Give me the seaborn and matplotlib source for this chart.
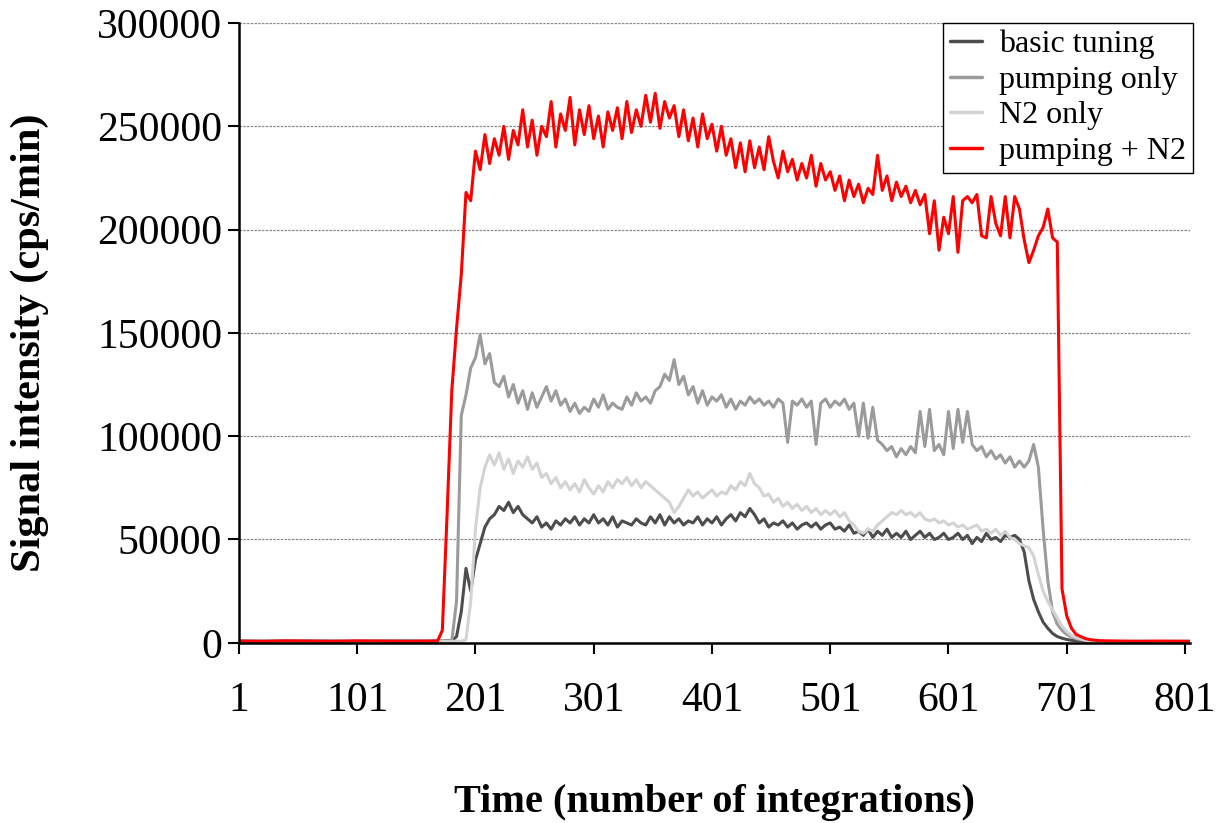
import numpy as np
import pandas as pd
import seaborn as sns
import matplotlib.pyplot as plt

# integration numbers: coarse baseline, fine active region, tail
time_pts = ([1, 21, 41, 61, 81, 101, 121, 141, 161, 169]
            + list(range(173, 734, 4))
            + [745, 760, 780, 805])

base_dark = [900, 700, 1000, 800, 900, 700, 800, 1000, 800, 900]
base_mid = [700, 900, 800, 1000, 700, 900, 800, 700, 900, 800]
base_light = [600, 800, 700, 600, 800, 700, 600, 800, 700, 600]
base_red = [800, 700, 900, 800, 700, 900, 800, 700, 800, 900]

basic_tuning = base_dark + [
    800, 900, 1000, 3000, 15000, 36000, 25000, 40000, 48000, 56000,
    60000, 62000, 66000, 64000, 68000, 63000, 66000, 62000, 60000, 58000,
    61000, 56000, 58000, 55000, 59000, 57000, 60000, 58000, 61000, 57000,
    60000, 58000, 62000, 58000, 60000, 57000, 61000, 56000, 59000, 58000,
    57000, 60000, 58000, 57000, 61000, 58000, 62000, 57000, 61000, 58000,
    60000, 57000, 59000, 58000, 61000, 57000, 60000, 58000, 61000, 57000,
    60000, 62000, 59000, 63000, 61000, 65000, 62000, 58000, 60000, 56000,
    58000, 57000, 59000, 56000, 58000, 55000, 57000, 58000, 56000, 58000,
    55000, 57000, 58000, 55000, 56000, 54000, 57000, 53000, 54000, 52000,
    55000, 51000, 54000, 52000, 55000, 51000, 53000, 51000, 54000, 50000,
    52000, 54000, 51000, 53000, 50000, 51000, 53000, 50000, 51000, 53000,
    50000, 52000, 48000, 51000, 49000, 53000, 50000, 51000, 49000, 52000,
    51000, 52000, 50000, 44000, 30000, 21000, 15000, 10000, 7000, 4500,
    3000, 2200, 1600, 1200, 1000, 900, 800, 800, 700, 700,
    700] + [600, 700, 600, 700]

pumping_only = base_mid + [
    700, 800, 1000, 20000, 110000, 120000, 133000, 138000, 149000, 135000,
    140000, 126000, 124000, 129000, 119000, 125000, 116000, 122000, 113000, 121000,
    114000, 119000, 124000, 117000, 122000, 115000, 118000, 112000, 116000, 111000,
    114000, 112000, 118000, 114000, 120000, 113000, 116000, 114000, 113000, 119000,
    115000, 121000, 117000, 119000, 116000, 122000, 124000, 130000, 127000, 137000,
    125000, 129000, 120000, 124000, 116000, 122000, 115000, 119000, 117000, 120000,
    114000, 118000, 113000, 117000, 115000, 119000, 116000, 118000, 115000, 117000,
    114000, 118000, 116000, 97000, 117000, 115000, 118000, 114000, 117000, 96000,
    116000, 118000, 114000, 117000, 115000, 118000, 113000, 116000, 100000, 116000,
    99000, 114000, 98000, 96000, 93000, 95000, 90000, 94000, 91000, 95000,
    92000, 112000, 95000, 113000, 93000, 96000, 91000, 112000, 94000, 113000,
    97000, 112000, 96000, 93000, 95000, 90000, 93000, 89000, 91000, 87000,
    90000, 85000, 88000, 85000, 88000, 96000, 85000, 55000, 30000, 15000,
    9000, 6000, 4000, 2800, 2000, 1500, 1200, 1000, 800, 700,
    700] + [700, 600, 700, 600]

n2_only = base_light + [
    600, 600, 700, 700, 800, 1500, 20000, 55000, 75000, 85000,
    91000, 86000, 92000, 84000, 89000, 82000, 88000, 85000, 90000, 84000,
    87000, 80000, 82000, 77000, 80000, 75000, 78000, 74000, 77000, 73000,
    79000, 75000, 72000, 76000, 73000, 78000, 75000, 79000, 77000, 80000,
    76000, 79000, 75000, 78000, 76000, 74000, 72000, 70000, 68000, 63000,
    66000, 70000, 74000, 71000, 73000, 70000, 72000, 74000, 71000, 73000,
    72000, 76000, 74000, 78000, 76000, 82000, 77000, 75000, 71000, 72000,
    68000, 70000, 66000, 68000, 65000, 67000, 64000, 66000, 63000, 65000,
    62000, 64000, 62000, 64000, 61000, 63000, 59000, 57000, 54000, 53000,
    55000, 54000, 57000, 59000, 61000, 63000, 62000, 64000, 62000, 63000,
    61000, 63000, 60000, 59000, 60000, 58000, 59000, 57000, 58000, 56000,
    57000, 55000, 56000, 57000, 54000, 55000, 53000, 55000, 52000, 54000,
    51000, 50000, 48000, 47000, 46000, 42000, 33000, 25000, 20000, 16000,
    12000, 8000, 5500, 3500, 2500, 1800, 1200, 900, 700, 700,
    600] + [600, 700, 600, 600]

pumping_n2 = base_red + [
    6000, 62000, 122000, 152000, 178000, 218000, 214000, 238000, 229000, 246000,
    232000, 244000, 236000, 250000, 234000, 248000, 241000, 258000, 240000, 253000,
    236000, 250000, 245000, 262000, 240000, 256000, 248000, 264000, 241000, 258000,
    246000, 260000, 244000, 255000, 240000, 257000, 248000, 259000, 244000, 262000,
    247000, 258000, 250000, 265000, 252000, 266000, 249000, 262000, 254000, 260000,
    245000, 258000, 243000, 254000, 240000, 256000, 244000, 251000, 238000, 250000,
    236000, 244000, 230000, 242000, 228000, 243000, 230000, 240000, 229000, 245000,
    233000, 225000, 238000, 228000, 234000, 224000, 232000, 225000, 236000, 221000,
    232000, 224000, 228000, 219000, 226000, 214000, 224000, 216000, 222000, 213000,
    220000, 217000, 236000, 219000, 226000, 214000, 223000, 216000, 221000, 213000,
    219000, 212000, 217000, 198000, 214000, 190000, 206000, 198000, 216000, 189000,
    214000, 216000, 213000, 217000, 197000, 196000, 216000, 203000, 197000, 216000,
    196000, 216000, 210000, 195000, 184000, 190000, 197000, 201000, 210000, 196000,
    194000, 26000, 13000, 7000, 4000, 3000, 2000, 1500, 1200, 1000,
    900] + [800, 700, 800, 700]

labels = ["basic tuning", "pumping only", "N2 only", "pumping + N2"]
colors = ["#4d4d4d", "#9b9b9b", "#d3d3d3", "#ff0000"]

df = pd.DataFrame({
    "time": time_pts * 4,
    "signal": basic_tuning + pumping_only + n2_only + pumping_n2,
    "series": sum([[lab] * len(time_pts) for lab in labels], []),
})

sns.set_style("white")
plt.rcParams["font.family"] = ["Liberation Serif", "DejaVu Serif"]
plt.rcParams["text.color"] = "black"
plt.rcParams["axes.labelcolor"] = "black"
plt.rcParams["xtick.color"] = "black"
plt.rcParams["ytick.color"] = "black"

fig = plt.figure(figsize=(12.19, 8.23), dpi=100)
ax = fig.add_axes([0.196, 0.219, 0.78, 0.753])

sns.lineplot(data=df, x="time", y="signal", hue="series", hue_order=labels,
             palette=dict(zip(labels, colors)), estimator=None, sort=False,
             linewidth=2.2, ax=ax)

ax.set_xlim(1, 805)
ax.set_ylim(0, 300000)
ax.set_xticks([1, 101, 201, 301, 401, 501, 601, 701, 801])
ax.set_yticks(range(0, 300001, 50000))
ax.yaxis.grid(True, color="#888888", linestyle=(0, (2, 1)), linewidth=0.9)
ax.xaxis.grid(False)
ax.set_axisbelow(True)

for side in ["top", "right"]:
    ax.spines[side].set_visible(False)
for side in ["left", "bottom"]:
    ax.spines[side].set_color("black")
    ax.spines[side].set_linewidth(1.8)

ax.tick_params(axis="both", direction="out", length=8, width=1.5,
               color="black", labelsize=30, bottom=True, left=True)
ax.tick_params(axis="x", pad=20)
ax.tick_params(axis="y", pad=4)

ax.set_xlabel("Time (number of integrations)", fontsize=29,
              fontweight="bold", labelpad=46)
ax.set_ylabel("Signal intensity (cps/min)", fontsize=30.5,
              fontweight="bold")
ax.yaxis.set_label_coords(-0.2, 0.484)

leg = ax.legend(loc="upper right", bbox_to_anchor=(1.003, 1.0), fontsize=23,
                frameon=True, fancybox=False, framealpha=1, handlelength=1.0,
                handletextpad=0.55, borderpad=0.2, labelspacing=0.2,
                borderaxespad=0.0)
leg.get_frame().set_edgecolor("black")
leg.get_frame().set_linewidth(1.0)
for line in leg.get_lines():
    line.set_linewidth(2.5)

fig.savefig("out.png", dpi=100)
